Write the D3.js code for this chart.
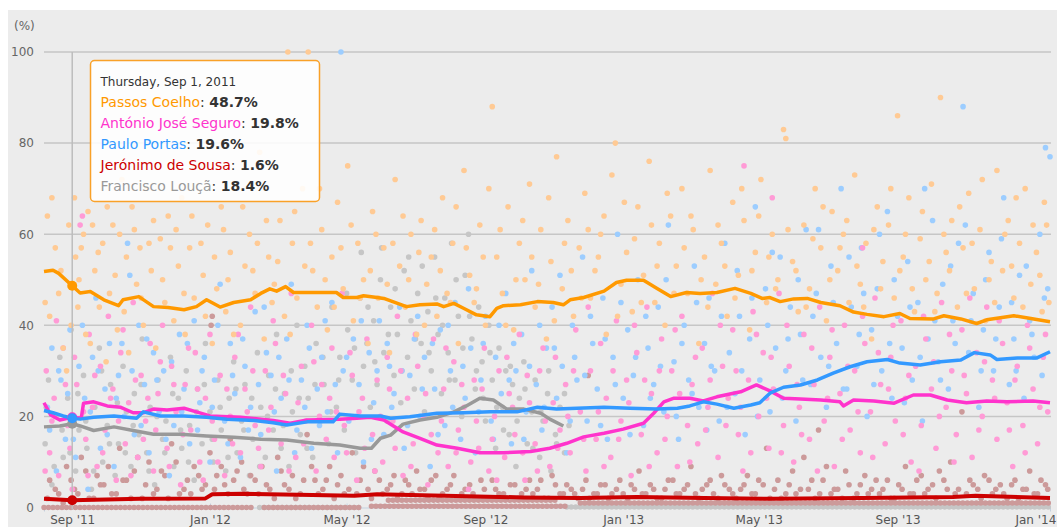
<!DOCTYPE html>
<html>
<head>
<meta charset="utf-8">
<script src="https://cdn.jsdelivr.net/npm/d3@7"></script>
<style>
  body { margin: 0; background: #fff; }
  svg { display: block; font-family: "DejaVu Sans", sans-serif; }
</style>
</head>
<body>
<svg id="chart" width="1057" height="527"></svg>
<script>
// ---------------------------
// Portuguese party leaders – approval tracker
// days are counted from Thursday, Sep 1, 2011
// ---------------------------

const names = ["Passos Coelho", "António José Seguro", "Paulo Portas", "Jerónimo de Sousa", "Francisco Louçã"];
const lineColors = ["#ff9900", "#ff33cc", "#3399ff", "#cc0000", "#999999"];
const dotColors  = ["#ffca94", "#ff9bd6", "#9ccdff", "#cc9a9a", "#c6c6c6"];
const yTicks = [0, 20, 40, 60, 80, 100];

// running averages [day, %]
const passosLine = [[-25,51.8],[-17,52.1],[-12,51.4],[0,48.7],[7,47.1],[16,47.4],[28,45.6],[41,44.3],[45,45.6],[59,46.3],[72,44.1],[85,43.9],[99,43.4],[110,44.1],[119,45.6],[131,44.0],[143,45.0],[158,45.6],[167,47.0],[175,48.0],[181,47.5],[189,48.5],[196,47.2],[234,47.2],[240,46.1],[252,46.1],[258,46.5],[270,46.1],[276,45.9],[296,44.1],[308,44.5],[323,44.7],[329,44.1],[338,44.8],[347,43.7],[358,42.3],[370,41.9],[376,43.7],[382,44.3],[397,44.5],[412,45.2],[426,45.0],[435,44.5],[441,45.6],[453,46.1],[471,47.5],[482,49.4],[491,49.9],[506,49.9],[518,48.1],[530,46.3],[544,47.2],[556,47.0],[571,47.2],[587,48.1],[601,47.0],[611,45.9],[618,46.1],[627,45.2],[639,45.8],[651,45.9],[663,45.0],[680,44.3],[692,42.9],[704,42.4],[719,41.9],[733,42.6],[742,41.5],[763,41.4],[772,42.1],[787,41.4],[801,40.4],[810,41.2],[834,42.1],[849,41.5],[866,40.8]];
const seguroLine = [[-25,23.0],[-19,20.3],[-11,19.2],[0,19.8],[8,19.6],[10,22.9],[19,23.2],[31,22.3],[43,22.0],[54,20.8],[63,20.8],[72,21.6],[84,21.4],[99,21.8],[110,21.0],[122,20.1],[149,19.8],[178,19.1],[193,18.5],[208,19.2],[237,19.4],[252,19.6],[264,19.8],[276,19.2],[293,16.6],[308,15.2],[323,13.7],[341,13.0],[361,12.0],[382,12.0],[406,12.3],[423,13.0],[438,14.1],[453,15.5],[471,16.3],[488,17.2],[506,18.5],[515,20.7],[524,23.2],[533,24.0],[547,24.0],[559,23.4],[571,24.3],[592,25.4],[606,26.9],[618,25.6],[630,24.0],[645,23.8],[663,23.6],[680,23.2],[683,22.3],[692,23.6],[710,23.4],[728,22.9],[745,24.7],[760,24.7],[775,23.6],[792,23.0],[810,23.4],[828,23.2],[851,23.4],[866,23.0]];
const portasLine = [[-25,21.3],[-17,20.8],[-8,20.1],[0,19.6],[7,19.4],[19,19.8],[37,20.1],[57,19.6],[63,21.0],[78,20.1],[99,20.1],[119,19.8],[137,19.4],[161,19.1],[178,18.6],[190,18.1],[208,18.8],[231,18.8],[237,20.5],[255,20.1],[273,20.1],[282,19.6],[299,19.9],[323,20.7],[347,20.8],[370,21.0],[394,21.0],[412,22.0],[429,21.6],[447,21.8],[471,22.0],[494,21.8],[518,21.6],[536,21.8],[547,22.3],[559,23.2],[571,22.7],[586,21.8],[601,22.5],[609,23.0],[618,25.1],[630,26.4],[645,26.9],[660,28.0],[674,29.5],[689,30.9],[704,32.0],[722,32.5],[733,31.7],[751,31.3],[769,32.0],[787,32.4],[799,34.0],[813,33.5],[819,32.5],[837,32.8],[854,32.8],[866,34.2]];
const sousaLine = [[-25,1.9],[0,1.6],[60,1.9],[118,2.0],[124,2.9],[150,3.0],[200,2.8],[250,2.6],[270,2.9],[330,2.6],[400,2.2],[450,2.1],[500,2.3],[560,2.1],[620,1.9],[700,2.1],[780,2.3],[800,2.6],[866,2.1]];
const loucaLine = [[-25,17.7],[-11,17.9],[0,18.4],[7,17.9],[19,16.9],[37,17.7],[54,16.9],[72,16.1],[96,16.1],[119,15.7],[143,15.4],[167,15.0],[190,14.8],[214,14.1],[237,13.7],[255,13.0],[265,13.0],[273,15.2],[282,15.9],[293,18.3],[308,19.2],[323,19.8],[338,21.0],[349,22.3],[361,24.0],[373,23.6],[385,21.6],[400,21.6],[415,20.7],[423,19.4],[435,17.9]];

// individual readings [day, %]
const passosDots = [[-22,64],[-20,42],[-15,57],[-12,47],[-8,35],[-5,30],[-3,62],[2,68],[3,55],[5,44],[8,57],[10,60],[14,65],[16,36],[20,52],[24,44],[27,58],[30,32],[33,47],[36,62],[40,39],[44,72],[48,55],[50,34],[53,66],[57,49],[60,57],[63,40],[66,70],[70,52],[74,35],[78,59],[82,45],[85,64],[90,41],[94,53],[97,68],[100,38],[104,57],[108,46],[112,75],[116,51],[120,62],[124,36],[128,48],[132,66],[136,43],[140,56],[145,71],[149,40],[153,53],[157,60],[162,47],[166,78],[170,37],[174,55],[179,49],[184,63],[188,42],[191,100],[195,58],[199,46],[204,70],[209,100],[213,52],[217,44],[221,61],[226,39],[230,55],[235,67],[240,48],[244,75],[249,41],[253,58],[258,50],[262,36],[266,65],[271,46],[276,57],[281,34],[286,72],[290,53],[295,44],[300,60],[305,38],[309,63],[314,49],[318,55],[323,42],[328,68],[332,47],[337,58],[342,36],[347,74],[352,51],[356,45],[361,62],[366,40],[372,88],[376,55],[381,47],[386,66],[391,39],[396,58],[401,50],[405,71],[410,44],[415,61],[420,37],[424,54],[429,77],[434,48],[439,63],[444,42],[449,57],[454,69],[459,46],[463,52],[468,60],[473,38],[478,73],[481,80],[486,49],[491,56],[496,43],[501,66],[506,51],[511,76],[516,45],[520,58],[525,40],[530,64],[535,53],[540,70],[545,47],[550,61],[555,36],[560,55],[565,74],[570,49],[575,58],[580,42],[585,67],[590,51],[595,63],[600,39],[605,56],[610,72],[615,45],[620,60],[625,50],[630,83],[632,81],[638,54],[643,43],[648,62],[653,48],[658,70],[663,57],[668,41],[673,65],[678,52],[683,60],[688,45],[693,73],[698,49],[703,58],[708,37],[713,66],[718,54],[723,62],[728,46],[731,86],[736,55],[741,68],[746,43],[751,59],[756,50],[761,71],[766,47],[769,90],[774,56],[779,63],[784,44],[789,57],[794,69],[799,48],[804,61],[809,41],[814,54],[819,74],[824,52],[829,63],[834,46],[839,58],[844,70],[849,49],[854,56],[859,43],[863,62],
  [-24,45],[-18,68],[-10,52],[-1,40],[6,50],[12,38],[18,62],[23,56],[31,66],[38,51],[42,60],[46,43],[55,61],[61,46],[68,58],[72,63],[80,50],[87,57],[92,61],[99,47],[106,64],[114,58],[118,42],[126,55],[134,61],[138,50],[143,38],[151,66],[160,52],[164,58],[172,63],[177,45],[182,54],[193,38],[197,65],[206,53],[211,58],[219,70],[224,50],[232,44],[238,57],[247,62],[255,46],[264,52],[269,60],[279,49],[284,58],[293,64],[298,50],[307,56],[312,40],[321,61],[326,52],[335,45],[340,66],[349,57],[358,48],[364,55],[369,70],[379,61],[384,40],[393,50],[399,63],[407,55],[413,49],[422,68],[427,41],[436,58],[442,52],[451,46],[457,61],[466,55],[471,64],[483,42],[489,67],[498,59],[504,45],[513,62],[518,53],[527,69],[533,47],[542,57],[548,64],[557,50],[563,44],[572,62],[578,53],[587,46],[593,70],[602,52],[608,64],[617,55],[623,48],[634,61],[641,52],[650,44],[656,59],[665,66],[671,50],[680,57],[686,63],[695,53],[701,44],[710,61],[716,48],[725,70],[733,52],[738,60],[744,48],[753,65],[759,54],[764,43],[772,60],[777,52],[786,66],[792,47],[797,58],[806,72],[812,50],[817,45],[826,60],[832,53],[836,68],[842,44],[851,62],[857,51],[861,67],[865,45]];
const seguroDots = [[-23,30],[-20,12],[-16,24],[-12,7],[-8,35],[-4,18],[0,4],[4,27],[7,62],[9,64],[12,15],[15,38],[18,22],[22,9],[25,31],[29,17],[32,42],[36,26],[39,6],[43,34],[47,14],[50,23],[54,45],[58,11],[61,29],[65,19],[69,36],[72,8],[76,25],[80,40],[84,13],[88,31],[92,21],[96,5],[100,27],[105,17],[109,34],[113,10],[118,24],[122,38],[126,15],[131,29],[135,7],[140,20],[144,33],[149,12],[153,26],[158,44],[162,18],[167,9],[171,30],[176,22],[180,36],[185,14],[189,25],[194,47],[198,11],[203,31],[207,19],[212,40],[216,8],[221,27],[225,15],[230,35],[234,21],[239,47],[243,12],[248,29],[252,6],[257,24],[261,37],[266,16],[270,28],[275,10],[279,33],[284,19],[288,42],[293,7],[297,24],[302,14],[306,31],[311,20],[315,5],[320,37],[324,12],[329,26],[333,9],[338,32],[342,17],[347,22],[351,4],[356,28],[360,13],[365,35],[369,8],[374,20],[378,30],[383,11],[387,25],[392,16],[396,38],[401,6],[405,23],[410,14],[414,30],[419,19],[423,9],[428,33],[432,17],[437,27],[441,12],[446,39],[450,21],[455,8],[459,30],[464,15],[468,36],[473,24],[477,11],[482,41],[486,19],[491,28],[495,7],[500,34],[504,16],[509,44],[513,25],[518,12],[522,37],[527,20],[531,30],[536,9],[540,42],[545,18],[549,27],[554,14],[558,35],[563,22],[567,47],[572,11],[576,31],[581,24],[585,39],[590,16],[594,8],[595,75],[599,28],[603,43],[608,20],[612,34],[617,13],[620,68],[621,26],[626,47],[630,18],[635,31],[639,10],[644,22],[648,38],[653,15],[657,27],[662,44],[666,19],[671,33],[675,9],[680,25],[684,40],[689,17],[693,30],[698,12],[700,57],[702,36],[707,21],[711,46],[716,27],[720,14],[725,33],[729,19],[734,41],[738,24],[743,10],[747,31],[752,18],[756,37],[761,26],[765,13],[770,45],[774,22],[779,30],[783,16],[788,39],[792,25],[797,11],[801,34],[806,20],[810,44],[815,28],[819,15],[824,36],[828,23],[833,9],[837,31],[842,18],[846,40],[851,26],[855,14],[860,33],[864,21],
  [-24,8],[-18,19],[-14,41],[-6,27],[-2,13],[2,33],[10,21],[14,7],[20,29],[27,12],[34,24],[41,19],[45,39],[52,7],[56,28],[63,15],[67,24],[74,17],[78,32],[86,9],[90,27],[98,16],[103,35],[111,26],[116,6],[124,19],[129,10],[137,26],[142,14],[147,38],[155,21],[160,30],[165,13],[174,17],[178,41],[187,29],[192,8],[200,23],[205,14],[214,32],[219,20],[228,24],[232,11],[241,18],[246,34],[254,21],[259,13],[268,8],[273,20],[281,26],[286,13],[291,30],[300,9],[304,38],[313,25],[318,16],[327,19],[331,35],[340,12],[345,27],[353,10],[358,19],[363,26],[372,15],[376,6],[385,33],[390,22],[399,12],[403,29],[412,8],[417,35],[426,23],[430,13],[439,20],[444,30],[453,15],[457,44],[466,21],[471,9],[479,30],[484,15],[493,23],[498,40],[507,28],[511,9],[520,30],[525,15],[534,39],[538,25],[547,10],[552,33],[561,17],[565,28],[574,40],[579,18],[588,30],[592,22],[601,12],[606,38],[615,24],[619,33],[628,12],[633,40],[642,27],[646,16],[655,35],[660,8],[669,24],[673,39],[682,15],[687,31],[696,21],[700,42],[709,11],[714,34],[723,26],[727,40],[736,16],[741,29],[750,8],[754,42],[763,32],[768,20],[777,38],[781,10],[790,29],[795,46],[803,17],[808,32],[817,24],[821,41],[830,17],[835,28],[844,12],[848,35],[857,22],[862,38]];
const portasDots = [[-22,22],[-18,35],[-14,8],[-10,28],[-6,15],[-2,39],[3,11],[6,31],[11,24],[14,4],[18,33],[21,46],[25,13],[29,26],[33,36],[37,9],[41,29],[46,20],[49,58],[51,51],[55,16],[59,40],[64,27],[68,12],[72,34],[77,21],[81,30],[86,7],[90,18],[95,38],[99,26],[104,14],[108,41],[113,23],[117,33],[122,10],[126,28],[131,49],[135,19],[140,36],[144,25],[149,11],[153,31],[158,22],[162,43],[167,16],[172,34],[176,29],[181,8],[185,24],[190,37],[194,49],[199,17],[203,28],[208,40],[212,13],[217,26],[221,33],[226,21],[230,45],[235,12],[238,100],[240,30],[245,19],[249,37],[254,27],[258,10],[263,34],[267,23],[272,41],[276,16],[281,31],[285,25],[290,44],[294,13],[299,29],[303,37],[308,20],[312,33],[317,9],[321,26],[326,39],[330,18],[335,30],[339,45],[344,15],[348,24],[353,35],[357,12],[362,28],[366,42],[371,19],[375,33],[380,25],[384,47],[389,14],[393,30],[398,38],[402,21],[407,52],[411,27],[416,17],[420,35],[425,44],[429,24],[434,31],[438,12],[443,40],[447,28],[452,55],[456,19],[461,36],[465,26],[470,46],[474,15],[479,33],[483,60],[488,24],[492,39],[497,29],[501,50],[506,18],[510,35],[515,27],[519,44],[524,21],[528,62],[533,32],[537,15],[542,40],[546,28],[551,53],[555,22],[560,36],[564,46],[569,30],[573,19],[578,58],[582,34],[587,25],[591,42],[596,16],[600,37],[605,66],[609,28],[614,48],[618,21],[623,35],[627,55],[632,30],[636,44],[641,19],[645,38],[650,61],[654,27],[659,47],[663,33],[668,22],[672,53],[677,36],[681,70],[686,26],[690,44],[695,31],[699,57],[704,20],[708,39],[713,48],[717,30],[722,65],[726,24],[731,42],[735,35],[740,54],[744,28],[749,45],[753,19],[758,37],[762,63],[767,32],[771,49],[776,26],[780,41],[785,58],[789,88],[794,34],[798,47],[803,22],[807,39],[812,56],[816,30],[821,44],[825,68],[830,27],[834,37],[839,51],[843,24],[848,41],[852,33],[857,60],[861,46],[862,79],[866,77],
  [-20,17],[-12,30],[-4,25],[1,15],[9,40],[16,21],[23,30],[31,16],[39,24],[44,36],[53,30],[61,18],[66,37],[75,28],[83,15],[88,32],[97,21],[102,36],[111,17],[115,30],[124,22],[129,40],[138,14],[142,29],[151,37],[156,17],[165,27],[170,44],[179,21],[183,33],[192,28],[197,12],[206,22],[210,35],[219,18],[224,41],[233,27],[243,33],[252,20],[256,41],[265,15],[270,30],[279,36],[283,22],[292,30],[297,18],[306,42],[310,26],[319,36],[324,16],[333,40],[337,22],[346,31],[351,48],[360,21],[364,36],[373,15],[378,40],[387,28],[391,36],[400,15],[405,31],[414,40],[418,22],[427,35],[432,51],[441,19],[445,33],[454,29],[459,42],[468,18],[472,37],[481,27],[486,45],[494,16],[499,33],[508,42],[512,24],[521,31],[526,50],[535,20],[540,36],[549,25],[553,45],[562,17],[566,31],[575,42],[580,22],[589,52],[593,30],[602,46],[607,20],[616,40],[620,56],[629,24],[634,37],[643,50],[647,28],[656,42],[661,61],[670,31],[674,45],[683,26],[688,55],[697,38],[701,47],[710,27],[715,60],[724,36],[728,50],[737,23],[742,44],[751,33],[755,70],[764,41],[769,28],[778,53],[782,36],[791,62],[796,41],[805,30],[809,50],[818,37],[823,59],[832,45],[836,30],[845,53],[850,38],[859,29],[864,48]];
const sousaDots = [[-20,6],[-12,3],[-5,9],[2,4],[8,11],[15,2],[22,7],[28,5],[35,3],[42,13],[48,6],[55,8],[62,2],[68,10],[75,4],[82,7],[88,14],[95,3],[102,6],[108,9],[115,4],[122,12],[123,40],[124,42],[128,7],[135,5],[140,15],[146,8],[150,10],[155,3],[162,6],[168,9],[175,4],[182,11],[188,5],[195,7],[202,3],[208,16],[215,6],[222,4],[228,9],[235,5],[241,3],[248,12],[255,6],[262,4],[268,8],[275,3],[282,5],[288,2],[295,6],[301,3],[308,4],[315,2],[322,7],[328,3],[335,5],[342,2],[348,4],[355,3],[362,6],[368,2],[375,4],[382,3],[388,5],[395,2],[402,4],[408,3],[415,6],[422,2],[428,5],[435,3],[442,4],[448,2],[455,6],[457,29],[462,3],[468,5],[475,2],[482,4],[488,3],[495,5],[502,8],[508,3],[515,4],[522,2],[528,6],[535,3],[542,4],[548,9],[555,2],[562,5],[568,3],[575,7],[582,4],[588,2],[595,5],[602,3],[608,6],[615,13],[622,4],[628,2],[635,5],[641,3],[648,11],[652,4],[658,2],[661,17],[665,6],[672,3],[678,4],[685,8],[692,2],[698,5],[705,3],[712,6],[718,4],[725,2],[732,5],[738,9],[745,3],[752,7],[758,4],[765,2],[772,6],[778,10],[785,4],[788,21],[792,3],[798,5],[805,2],[812,6],[818,4],[825,3],[832,5],[838,2],[845,4],[852,3],[858,6],[864,4],
  [-22,2],[-15,4],[-8,1],[-1,6],[5,3],[12,8],[19,2],[25,5],[32,9],[39,3],[45,6],[52,2],[58,11],[65,5],[72,3],[79,8],[85,2],[92,10],[99,4],[105,3],[112,7],[118,5],[126,4],[132,9],[138,3],[143,6],[152,4],[158,7],[165,3],[172,5],[179,2],[185,8],[192,4],[198,2],[205,6],[212,9],[218,3],[225,6],[232,2],[238,7],[245,4],[252,3],[258,9],[265,2],[272,6],[279,4],[285,7],[292,3],[298,5],[305,8],[312,4],[318,6],[325,2],[332,4],[338,7],[345,3],[352,5],[358,2],[365,4],[372,6],[378,3],[385,2],[392,5],[398,3],[405,6],[412,4],[418,2],[425,7],[432,3],[438,5],[445,3],[452,4],[458,2],[465,3],[472,5],[478,3],[485,6],[492,2],[498,4],[505,3],[512,5],[518,2],[525,4],[532,6],[538,3],[545,5],[552,3],[558,4],[565,6],[572,2],[578,5],[585,3],[592,4],[598,7],[605,3],[612,5],[618,2],[625,6],[632,3],[638,8],[645,4],[655,6],[662,3],[668,9],[675,4],[682,2],[688,5],[695,3],[702,7],[708,4],[715,3],[722,6],[728,2],[735,4],[742,3],[748,6],[755,3],[762,5],[768,8],[775,4],[782,3],[795,6],[802,4],[808,7],[815,3],[822,5],[828,2],[835,6],[842,4],[848,8],[855,3],[862,5]];
const loucaDots = [[-24,14],[-21,28],[-18,5],[-15,20],[-11,33],[-8,11],[-4,24],[-1,39],[3,8],[6,17],[10,29],[13,13],[17,4],[20,22],[24,35],[27,10],[31,18],[34,27],[38,7],[41,14],[45,31],[48,21],[52,9],[55,25],[59,16],[62,37],[66,12],[69,22],[73,5],[76,28],[80,15],[83,19],[87,33],[90,9],[94,24],[97,13],[101,30],[104,18],[108,6],[111,26],[115,14],[118,36],[122,21],[125,10],[129,28],[132,17],[136,8],[139,24],[143,32],[146,12],[150,19],[153,27],[157,7],[160,15],[164,34],[167,22],[171,11],[174,29],[178,17],[181,38],[185,13],[188,25],[192,9],[195,21],[199,40],[202,16],[206,31],[209,24],[213,11],[216,36],[220,19],[223,27],[227,14],[230,44],[234,22],[237,33],[241,17],[244,39],[248,28],[251,12],[255,46],[258,31],[261,36],[264,22],[267,41],[270,27],[273,50],[276,34],[279,19],[282,44],[285,29],[288,38],[291,23],[294,52],[297,33],[300,41],[303,26],[306,47],[309,36],[312,21],[315,43],[318,30],[321,55],[324,38],[327,25],[330,46],[333,34],[336,58],[339,28],[342,42],[345,20],[348,51],[351,60],[354,37],[357,26],[360,44],[363,32],[366,19],[369,40],[372,28],[375,13],[378,35],[381,22],[384,30],[387,16],[390,27],[393,9],[396,24],[400,32],[403,14],[407,21],[410,28],[414,11],[417,19],[421,25],[424,8],[428,16],[432,22],[436,12],[440,18],
  [-23,22],[-16,9],[-9,17],[-2,12],[5,25],[12,19],[19,8],[26,30],[33,14],[40,23],[47,12],[54,18],[61,27],[68,8],[75,20],[82,12],[89,25],[96,17],[103,10],[110,21],[117,27],[124,15],[131,22],[138,11],[145,26],[152,17],[159,24],[166,9],[173,20],[180,26],[187,18],[194,30],[201,24],[208,13],[215,27],[222,33],[229,21],[236,28],[243,47],[250,35],[256,56],[262,44],[268,32],[274,57],[280,38],[286,48],[292,30],[298,55],[304,37],[310,53],[316,34],[322,46],[328,40],[334,28],[340,50],[346,35],[352,42],[358,30],[364,24],[370,34],[376,22],[382,17],[388,31],[394,19],[401,26],[408,13],[415,21],[422,30],[429,14],[436,25]];

// long runs of readings sitting on the floor [fromDay, toDay, %]
const sousaFloor = [[-25,160,0],[170,255,0],[265,440,0.3],[280,430,1.6],[450,866,1.0]];
const loucaFloor = [[166,255,0],[438,866,0.1]];

const lines = [sousaLine, loucaLine, seguroLine, portasLine, passosLine];
const lineIdx = [3, 4, 1, 2, 0];   // draw order -> names index
const dotSets = [loucaDots, sousaDots, portasDots, seguroDots, passosDots];
const dotIdx = [4, 3, 2, 1, 0];
const byName = [passosLine, seguroLine, portasLine, sousaLine, loucaLine];

const base = new Date(2011, 8, 1);
const day = d => d3.timeDay.offset(base, d);

const svg = d3.select("#chart");
const x = d3.scaleTime().domain([day(-25), day(866)]).range([44, 1050]);
const y = d3.scaleLinear().domain([0, 100]).range([507.5, 52]);

// panel background
svg.append("rect").attr("x", 8).attr("y", 10).attr("width", 1049).attr("height", 517).attr("fill", "#ececec");

// horizontal grid
svg.append("g").selectAll("line").data(yTicks.slice(1)).enter().append("line")
    .attr("x1", 44).attr("x2", 1051)
    .attr("y1", d => y(d)).attr("y2", d => y(d))
    .attr("stroke", "#c6c6c6").attr("stroke-width", 1.5);

// y labels
const yAxis = svg.append("g").attr("transform", "translate(44,0)")
    .call(d3.axisLeft(y).tickValues(yTicks).tickSize(0).tickPadding(10));
yAxis.select(".domain").remove();
yAxis.selectAll("text").attr("fill", "#666").style("font-size", "12px").style("font-family", "DejaVu Sans");
svg.append("text").attr("x", 14).attr("y", 30).attr("fill", "#666").style("font-size", "12px").text("(%)");

// x axis
const xAxis = svg.append("g").attr("transform", "translate(0,507.5)")
    .call(d3.axisBottom(x).ticks(d3.timeMonth.every(4)).tickFormat(d3.timeFormat("%b '%y")).tickSize(4).tickPadding(4));
xAxis.select(".domain").attr("stroke", "#c4d2e0");
xAxis.selectAll("line").attr("stroke", "#c4d2e0").attr("y1", -4).attr("y2", 1);
xAxis.selectAll("text").attr("fill", "#555").style("font-size", "12px").style("font-family", "DejaVu Sans");

// floor runs, drawn as rows of touching dots
const floorG = svg.append("g");
[[loucaFloor, 4], [sousaFloor, 3]].forEach(([runs, i]) => {
    floorG.selectAll(null).data(runs).enter().append("line")
        .attr("x1", d => x(day(d[0]))).attr("x2", d => x(day(d[1])))
        .attr("y1", d => y(d[2])).attr("y2", d => y(d[2]))
        .attr("stroke", dotColors[i]).attr("stroke-width", 5.5)
        .attr("stroke-linecap", "round").attr("stroke-dasharray", "0 4.5");
});

// dots
dotSets.forEach((set, k) => {
    svg.append("g").selectAll("circle").data(set).enter().append("circle")
        .attr("cx", d => x(day(d[0])))
        .attr("cy", d => y(d[1]))
        .attr("r", 2.8)
        .attr("fill", dotColors[dotIdx[k]]);
});

// hover crosshair
svg.append("line")
    .attr("x1", x(day(0))).attr("x2", x(day(0)))
    .attr("y1", y(100)).attr("y2", y(0) + 2)
    .attr("stroke", "#bdbdbd").attr("stroke-width", 1.5);

// trend lines
const lineGen = d3.line().x(d => x(day(d[0]))).y(d => y(d[1]));
lines.forEach((data, k) => {
    svg.append("path").datum(data)
        .attr("d", lineGen)
        .attr("fill", "none")
        .attr("stroke", lineColors[lineIdx[k]])
        .attr("stroke-width", lineIdx[k] === 3 ? 4 : 3.5)
        .attr("stroke-linejoin", "round");
});

// hover markers
const valueAt0 = s => s.find(p => p[0] === 0)[1];
lines.forEach((data, k) => {
    svg.append("circle")
        .attr("cx", x(day(0))).attr("cy", y(valueAt0(data)))
        .attr("r", 5).attr("fill", lineColors[lineIdx[k]]);
});

// tooltip
const tip = svg.append("g").attr("transform", "translate(90.5,60.5)");
tip.append("rect").attr("width", 229).attr("height", 141).attr("rx", 4)
    .attr("fill", "#fff").attr("fill-opacity", 0.88)
    .attr("stroke", "#f9a128").attr("stroke-width", 1.5);
tip.append("text").attr("x", 10).attr("y", 25).attr("fill", "#333").style("font-size", "12px")
    .text(d3.timeFormat("%A, %b %-d, %Y")(base));
names.forEach((n, i) => {
    const t = tip.append("text").attr("x", 10).attr("y", 46 + i * 21).style("font-size", "14px");
    t.append("tspan").attr("fill", lineColors[i] === "#999999" ? "#999" : lineColors[i]).text(n);
    t.append("tspan").attr("fill", "#333").text(": ");
    t.append("tspan").attr("fill", "#333").attr("font-weight", "bold").text(valueAt0(byName[i]).toFixed(1) + "%");
});
</script>
</body>
</html>
